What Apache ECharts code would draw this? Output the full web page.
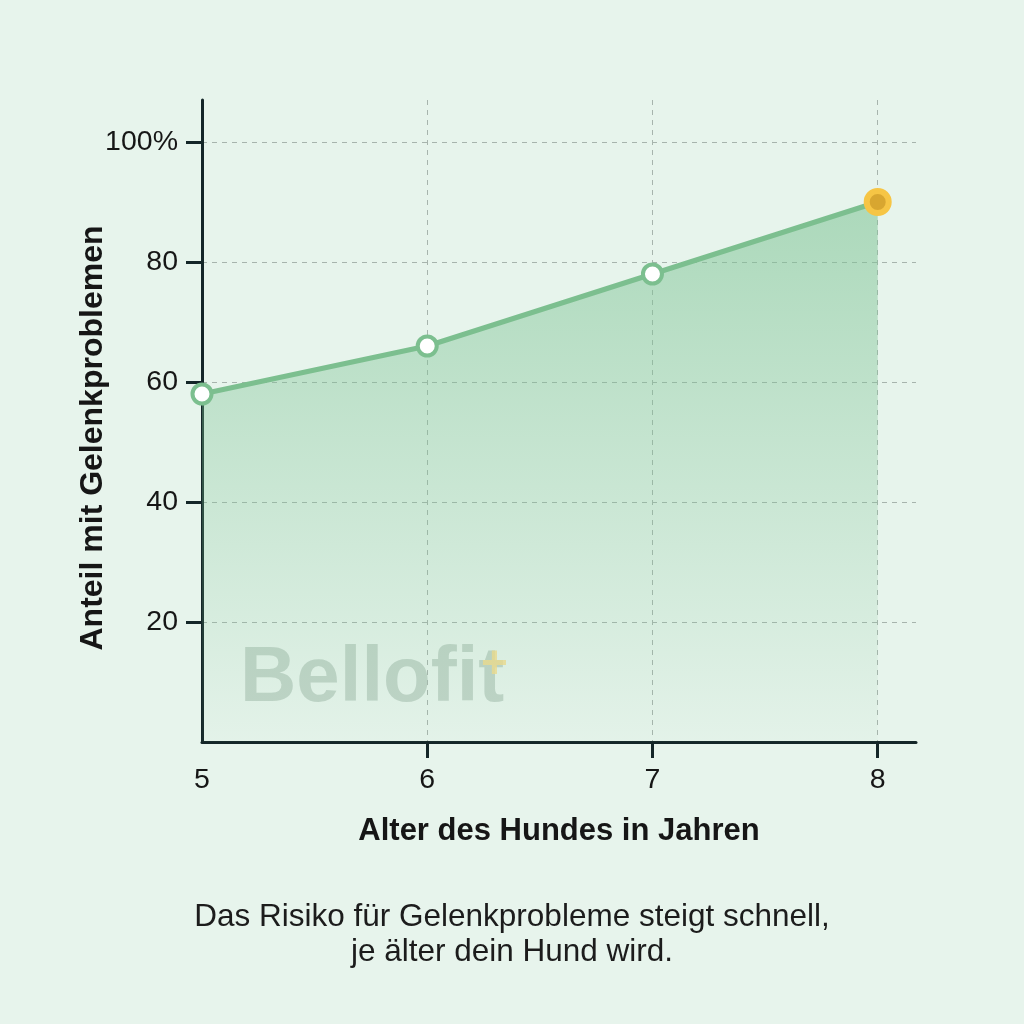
<!DOCTYPE html>
<html>
<head>
<meta charset="utf-8">
<script src="https://cdn.jsdelivr.net/npm/echarts@6/dist/echarts.min.js"></script>
<style>
  html, body { margin: 0; padding: 0; background: #e7f4ec; }
  #main { width: 1024px; height: 1024px; }
</style>
</head>
<body>
<div id="main"></div>
<script>
var ages = [5, 6, 7, 8];
var shares = [58, 66, 78, 90];
var yTicks = [20, 40, 60, 80, 100];
var xTicks = [6, 7, 8];

var points = ages.map(function (a, i) {
    var p = { value: [a, shares[i]] };
    // letzter Punkt hervorgehoben
    if (i === ages.length - 1) {
        p.symbolSize = 22;
        p.itemStyle = { color: '#d8a630', borderColor: '#f6c545', borderWidth: 6 };
    }
    return p;
});

var font = 'Liberation Sans, Arial, sans-serif';
var gridLine = { show: true, lineStyle: { type: [5, 5], color: '#a7b4ad', width: 1 } };

var myChart = echarts.init(document.getElementById('main'));
var option = {
    backgroundColor: '#e7f4ec',
    textStyle: { fontFamily: font },
    title: {
        text: 'Das Risiko für Gelenkprobleme steigt schnell,\nje älter dein Hund wird.',
        left: 'center',
        top: 895,
        textStyle: { fontSize: 31.5, fontWeight: 'normal', color: '#1c1c1c', lineHeight: 35, fontFamily: font }
    },
    grid: { left: 202, right: 108, top: 100, bottom: 282 },
    xAxis: {
        type: 'value',
        min: 5,
        max: 8.17,
        interval: 1,
        name: 'Alter des Hundes in Jahren',
        nameLocation: 'middle',
        nameGap: 74,
        nameTextStyle: { fontSize: 31, fontWeight: 'bold', color: '#161616' },
        axisLine: { show: true, lineStyle: { color: '#142628', width: 3 } },
        axisTick: { show: true, length: 16, customValues: xTicks, lineStyle: { color: '#142628', width: 3 } },
        axisLabel: { customValues: ages, margin: 24, fontSize: 28.5, color: '#161616' },
        splitLine: gridLine
    },
    yAxis: {
        type: 'value',
        min: 0,
        max: 107,
        interval: 20,
        name: 'Anteil mit Gelenkproblemen',
        nameLocation: 'middle',
        nameGap: 93,
        nameMoveOverlap: false,
        nameTextStyle: { fontSize: 32, fontWeight: 'bold', color: '#161616', padding: [0, 34, 0, 0] },
        axisLine: { show: true, lineStyle: { color: '#142628', width: 3 } },
        axisTick: { show: true, length: 16, customValues: yTicks, lineStyle: { color: '#142628', width: 3 } },
        axisLabel: {
            customValues: yTicks,
            margin: 24,
            fontSize: 28.5,
            color: '#161616',
            formatter: function (v) { return v === 100 ? '100%' : String(v); }
        },
        splitLine: gridLine
    },
    graphic: [
        {
            type: 'text',
            left: 240,
            top: 640,
            z: 1,
            style: { text: 'Bellofit', fontSize: 78, fontWeight: 'bold', fontFamily: font, fill: 'rgba(168,190,176,0.6)' }
        },
        {
            type: 'text',
            left: 481,
            top: 642,
            z: 1,
            style: { text: '+', fontSize: 46, fontWeight: 'bold', fontFamily: font, fill: 'rgba(246,220,140,0.8)' }
        }
    ],
    series: [
        {
            type: 'line',
            data: points,
            symbol: 'circle',
            symbolSize: 19,
            showAllSymbol: true,
            z: 3,
            lineStyle: { color: '#7cbf8f', width: 5 },
            itemStyle: { color: '#ffffff', borderColor: '#7cbf8f', borderWidth: 4 },
            areaStyle: {
                color: new echarts.graphic.LinearGradient(0, 0, 0, 1, [
                    { offset: 0, color: 'rgba(125,195,148,0.8)' },
                    { offset: 1, color: 'rgba(125,195,148,0.05)' }
                ])
            }
        }
    ]
};
myChart.setOption(option);
</script>
</body>
</html>
